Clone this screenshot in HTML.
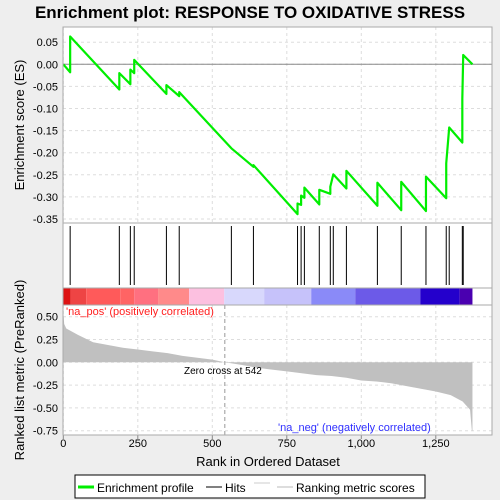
<!DOCTYPE html>
<html><head><meta charset="utf-8"><style>
body{margin:0;background:#eeeeee;}
svg{display:block;font-family:"Liberation Sans",sans-serif;}
</style></head><body>
<svg id="c" width="500" height="500">
<rect x="0" y="0" width="500" height="500" fill="#eeeeee"/>
<text x="250" y="18" text-anchor="middle" font-size="17" font-weight="bold">Enrichment plot: RESPONSE TO OXIDATIVE STRESS</text>
<rect x="63" y="27" width="429" height="408" fill="#fff"/>
<g id="g"></g>
<text transform="translate(24,125) rotate(-90)" text-anchor="middle" font-size="13">Enrichment score (ES)</text>
<text transform="translate(24,370) rotate(-90)" text-anchor="middle" font-size="13">Ranked list metric (PreRanked)</text>
<text x="268" y="466" text-anchor="middle" font-size="13">Rank in Ordered Dataset</text>
<text x="66" y="315" font-size="11" fill="#ff2020">'na_pos' (positively correlated)</text>
<text x="278" y="431" font-size="11" fill="#3030ff">'na_neg' (negatively correlated)</text>
<text x="184" y="374" font-size="10">Zero cross at 542</text>
<g>
<rect x="75" y="475" width="350" height="23" fill="#fff" stroke="#000"/>
<line x1="78" y1="487" x2="94" y2="487" stroke="#00ee00" stroke-width="3"/>
<text x="97" y="492" font-size="12">Enrichment profile</text>
<line x1="206" y1="487" x2="222" y2="487" stroke="#000"/>
<text x="225" y="492" font-size="12">Hits</text>
<line x1="254" y1="483" x2="270" y2="483" stroke="#ccc"/>
<line x1="277" y1="487" x2="293" y2="487" stroke="#bbb"/>
<text x="296" y="492" font-size="12">Ranking metric scores</text>
</g>
</svg>
<script>
const hitRanks=[23,188,225,238,346,389,564,638,786,798,809,859,896,906,950,1054,1134,1217,1285,1295,1339,1342];
const esRanks=[0,23,23,188,188,225,225,238,238,346,346,389,389,564,638,638,786,786,798,798,809,809,859,859,896,896,906,950,950,1054,1054,1134,1134,1217,1217,1285,1285,1295,1339,1339,1342,1373];
const esValues=[0,-0.018,0.063,-0.057,-0.02,-0.045,-0.012,-0.02,0.01,-0.067,-0.047,-0.072,-0.063,-0.19,-0.232,-0.228,-0.339,-0.315,-0.318,-0.297,-0.302,-0.279,-0.317,-0.284,-0.293,-0.277,-0.249,-0.281,-0.241,-0.320,-0.268,-0.330,-0.266,-0.332,-0.254,-0.303,-0.224,-0.143,-0.177,-0.078,0.021,0];
const metricRanks=[0,3,10,50,100,150,200,250,300,350,400,450,500,542,600,650,700,750,800,850,900,950,1000,1050,1100,1150,1200,1250,1300,1340,1365,1371,1373];
const metricValues=[0.55,0.42,0.37,0.3,0.22,0.19,0.16,0.14,0.12,0.1,0.07,0.05,0.03,0,-0.03,-0.06,-0.08,-0.1,-0.12,-0.14,-0.15,-0.17,-0.2,-0.21,-0.23,-0.26,-0.29,-0.32,-0.36,-0.43,-0.52,-0.75,-0.75];
const esTicks=[0.05,0,-0.05,-0.1,-0.15,-0.2,-0.25,-0.3,-0.35];
const metricTicks=[0.5,0.25,0,-0.25,-0.5,-0.75];
const xTicks=[0,250,500,750,1000,1250];
const xTickLabels=["0","250","500","750","1,000","1,250"];
const bandEdges=[0,25,77,191,238,318,422,540,674,832,980,1198,1330,1373];
const bandColors=["#dd1111","#ee4444","#ff5a5a","#ff6464","#ff7080","#ff8a8a","#fcc0e0","#d8d8fc","#c6c2fa","#8a8af8","#6c5ae8","#2400cc","#4a00b0"];
const zeroCross=542;
const X=r=>63.3+r*0.298;
const YE=v=>64.3-v*442;
const YM=v=>362.3-v*91.2;
const g=document.getElementById('g');const NS='http://www.w3.org/2000/svg';
function el(t,a){const e=document.createElementNS(NS,t);for(const k in a)e.setAttribute(k,a[k]);g.appendChild(e);return e;}
// grids
xTicks.forEach((t,i)=>{[[27,223],[305,435]].forEach(([a,b])=>{const l=el('line',{x1:X(t),x2:X(t),y1:a,y2:b,stroke:'#ddd','stroke-dasharray':'3,3'});});
 const tx=el('text',{x:X(t),y:447,'text-anchor':'middle','font-size':11});tx.textContent=xTickLabels[i];
 const tk=el('line',{x1:X(t),x2:X(t),y1:435,y2:439,stroke:'#888'});});
esTicks.forEach(t=>{const l=el('line',{x1:63,x2:492,y1:YE(t),y2:YE(t),stroke:'#ddd','stroke-dasharray':'3,3'});
 const tx=el('text',{x:58,y:YE(t)+4,'text-anchor':'end','font-size':11});tx.textContent=t.toFixed(2);});
metricTicks.forEach(t=>{const l=el('line',{x1:63,x2:492,y1:YM(t),y2:YM(t),stroke:'#ddd','stroke-dasharray':'3,3'});
 const tx=el('text',{x:58,y:YM(t)+4,'text-anchor':'end','font-size':11});tx.textContent=t.toFixed(2);});
const z=el('line',{x1:63,x2:492,y1:YE(0),y2:YE(0),stroke:'#888'});
// metric area
let d='M'+X(0)+','+YM(0);metricRanks.forEach((r,i)=>{d+=' L'+X(r)+','+YM(metricValues[i]);});d+=' L'+X(metricRanks[metricRanks.length-1])+','+YM(0)+'Z';
const ma=el('path',{d:d,fill:'#c0c0c0'});
const zc=el('line',{x1:X(zeroCross),x2:X(zeroCross),y1:305,y2:435,stroke:'#999','stroke-dasharray':'4,3'});
// band
bandColors.forEach((c,i)=>{const r=el('rect',{x:X(bandEdges[i]),y:288,width:X(bandEdges[i+1])-X(bandEdges[i]),height:17,fill:c});});
// hits
hitRanks.forEach(r=>{const l=el('line',{x1:X(r),x2:X(r),y1:226,y2:285,stroke:'#000','stroke-width':1});});
// es line
let p='';esRanks.forEach((r,i)=>{p+=(i?' L':'M')+X(r)+','+YE(esValues[i]);});
const es=el('path',{d:p,fill:'none',stroke:'#00ee00','stroke-width':2.2,'stroke-linejoin':'round'});
// panel borders
[[27,223],[223,288],[288,305],[305,435]].forEach(([a,b])=>{const r=el('rect',{x:63,y:a,width:429,height:b-a,fill:'none',stroke:'#aaa'});});
</script>
</body></html>
